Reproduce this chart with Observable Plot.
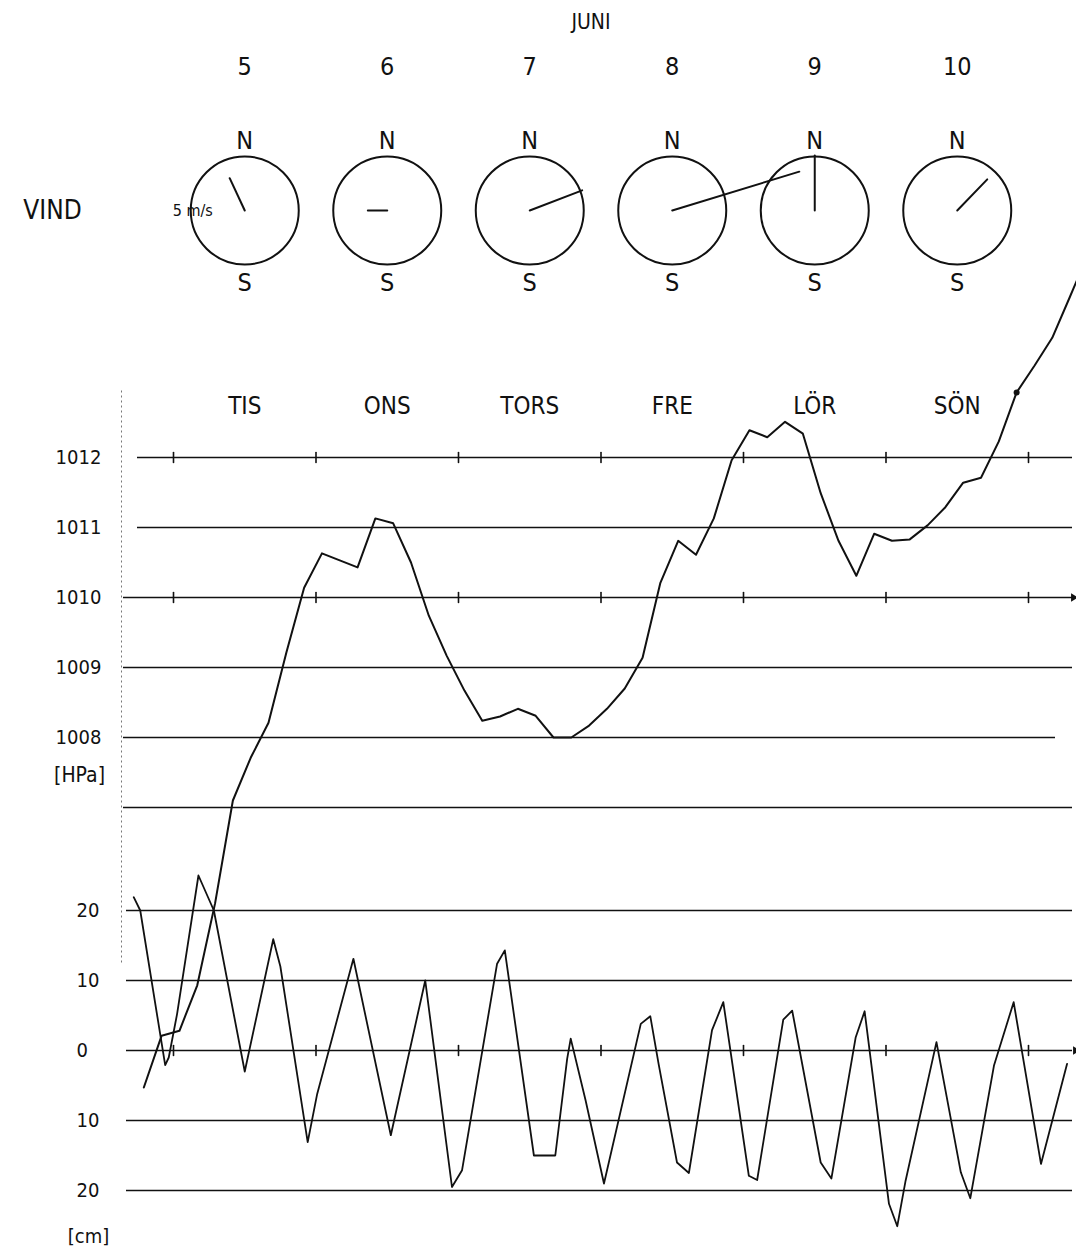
<!DOCTYPE html>
<html><head><meta charset="utf-8">
<script src="https://cdn.jsdelivr.net/npm/d3@7"></script>
<script src="https://cdn.jsdelivr.net/npm/@observablehq/plot@0.6"></script>
<style>
html,body{margin:0;padding:0;background:#fff;}
#chart{position:relative;width:1076px;height:1254px;overflow:hidden;background:#fff;}
#chart svg{position:absolute;left:0;top:0;background:transparent;}
</style></head><body><div id="chart"></div>
<script>
// ---- data ----
const month = "JUNI";
const dates = [5, 6, 7, 8, 9, 10];
const dayNames = ["TIS", "ONS", "TORS", "FRE", "LÖR", "SÖN"];
const noonHour = [12, 36, 60, 84, 108, 132];          // hours after 5 June 00:00
const midnightHour = [0, 24, 48, 72, 96, 120, 144];
const windDirection = [335, 270, 69, 73, 0, 44];      // degrees, compass
const windSpeed = [3.3, 1.8, 5.2, 12.3, 5.1, 4.0];    // m/s

const pressureHour = [-5,-2,1,4,7,10,13,16,19,22,25,28,31,34,37,40,43,46,49,52,55,58,61,64,67,70,73,76,79,82,85,88,91,94,97,100,103,106,109,112,115,118,121,124,127,130,133,136,139,142,145,148,151,154];
const pressureHPa = [1003.0,1003.74,1003.81,1004.46,1005.63,1007.1,1007.71,1008.21,1009.21,1010.14,1010.63,1010.53,1010.43,1011.13,1011.06,1010.5,1009.74,1009.17,1008.67,1008.24,1008.3,1008.41,1008.31,1008.0,1008.0,1008.17,1008.41,1008.7,1009.14,1010.21,1010.81,1010.61,1011.13,1011.96,1012.39,1012.29,1012.51,1012.34,1011.49,1010.81,1010.31,1010.91,1010.81,1010.83,1011.03,1011.29,1011.64,1011.71,1012.23,1012.93,1013.31,1013.71,1014.3,1014.9];

const waterHour = [-6.7,-5.6,-1.4,-0.8,0.6,4.2,6.8,12.0,16.8,18.0,22.6,24.2,30.3,36.6,42.4,46.9,48.6,54.5,55.8,60.7,64.3,66.3,66.9,69.4,72.5,78.7,80.3,81.7,84.8,86.8,90.7,92.6,96.9,98.3,102.7,104.2,109.0,110.8,114.9,116.4,120.5,121.9,123.3,128.5,132.6,134.2,138.2,141.5,146.1,150.5];
const waterCm = [21.9,20.0,-2.1,-1.0,5.2,25.0,20.0,-3.0,15.9,12.0,-13.1,-6.2,13.1,-12.1,10.0,-19.5,-17.1,12.4,14.3,-15.0,-15.0,-1.2,1.7,-7.1,-19.0,3.8,4.9,-1.9,-16.0,-17.5,2.9,6.9,-17.9,-18.5,4.4,5.7,-16.0,-18.3,1.9,5.6,-21.9,-25.1,-18.6,1.2,-17.4,-21.1,-2.1,6.9,-16.2,-1.9];

const pressureTicks = [1008, 1009, 1010, 1011, 1012];
const waterTicks = [-20, -10, 0, 10, 20];
const pressureUnit = "[HPa]";
const waterUnit = "[cm]";
const windLabel = "VIND";
const speedLabel = "5 m/s";

// ---- tables ----
const days = dates.map((d, i) => ({date: d, name: dayNames[i], hour: noonHour[i], dir: windDirection[i], speed: windSpeed[i]}));
const pressure = pressureHour.map((h, i) => ({hour: h, hPa: pressureHPa[i]}));
const water = waterHour.map((h, i) => ({hour: h, cm: waterCm[i]}));

const FONT = '"DejaVu Sans Condensed", "DejaVu Sans", sans-serif';
const W = 1076, H = 1254, ML = 173, MR = 48;
const ink = "#111";
const lineShape = {draw(context, l) { context.moveTo(0, 0); context.lineTo(0, -l); }};
const xScale = {domain: [0, 144], axis: null};
const baseStyle = {fontFamily: FONT, fontSize: "22px", color: ink, background: "transparent", overflow: "hidden"};
const topText = {frameAnchor: "top", lineAnchor: "middle"};

// ---- wind & headings ----
const windPlot = Plot.plot({
  width: W, height: H, marginLeft: ML, marginRight: MR, marginTop: 0, marginBottom: H - 420,
  x: xScale,
  y: {type: "point", domain: [windLabel]},
  length: {domain: [0, 5], range: [0, 54]},
  style: baseStyle,
  marks: [
    Plot.axisY({tickSize: 0, tickPadding: 121, textAnchor: "middle", fontSize: 26, label: null}),
    Plot.text([month], {...topText, dy: 22, dx: -10, text: d => d, fontSize: 21}),
    Plot.text(days, {...topText, x: "hour", text: "date", dy: 66, fontSize: 25}),
    Plot.text(days, {...topText, x: "hour", text: () => "N", dy: 140, fontSize: 25}),
    Plot.text(days, {...topText, x: "hour", text: () => "S", dy: 282, fontSize: 25}),
    Plot.text(days, {...topText, x: "hour", text: "name", dy: 406, fontSize: 24}),
    Plot.dot(days, {x: "hour", y: () => windLabel, r: 54, stroke: ink, strokeWidth: 2, fill: "none"}),
    Plot.vector(days, {x: "hour", y: () => windLabel, rotate: "dir", length: "speed", anchor: "start", shape: lineShape, stroke: ink, strokeWidth: 2}),
    Plot.text([days[0]], {x: "hour", y: () => windLabel, text: () => speedLabel, dx: -72, textAnchor: "start", fontSize: 16})
  ]
});

// ---- pressure ----
const pressurePlot = Plot.plot({
  width: W, height: H, marginLeft: ML, marginRight: MR, marginTop: 457, marginBottom: H - 737,
  x: xScale,
  y: {domain: [1008, 1012], axis: null},
  style: baseStyle,
  marks: [
    Plot.ruleX([0], {dx: -52, y1: 1012.95, y2: 1004.75, stroke: "#777", strokeWidth: 1, strokeDasharray: "2,3"}),
    Plot.ruleY([1012, 1011], {insetLeft: -36, insetRight: -44, stroke: ink, strokeWidth: 1.6}),
    Plot.ruleY([1010, 1009, 1007], {insetLeft: -50, insetRight: -44, stroke: ink, strokeWidth: 1.6}),
    Plot.ruleY([1008], {insetLeft: -50, insetRight: -27, stroke: ink, strokeWidth: 1.6}),
    Plot.vector(d3.cross(midnightHour, [1012, 1010]), {x: d => d[0], y: d => d[1], length: 10, anchor: "middle", shape: lineShape, stroke: ink, strokeWidth: 1.6}),
    Plot.dot([1010], {y: d => d, frameAnchor: "right", dx: 45, symbol: "triangle2", rotate: 90, r: 4, fill: ink}),
    Plot.axisY(pressureTicks, {tickSize: 0, tickPadding: 95, textAnchor: "middle", tickFormat: d => String(d), fontSize: 20, label: null}),
    Plot.text([1008], {y: d => d, frameAnchor: "left", textAnchor: "middle", dx: -94, dy: 38, text: () => pressureUnit, fontSize: 21}),
    Plot.line(pressure, {x: "hour", y: "hPa", stroke: ink, strokeWidth: 2}),
    Plot.dot([pressure[49]], {x: "hour", y: "hPa", r: 3, fill: ink})
  ]
});

// ---- water level ----
const waterPlot = Plot.plot({
  width: W, height: H, marginLeft: ML, marginRight: MR, marginTop: 910, marginBottom: H - 1190,
  x: xScale,
  y: {domain: [-20, 20], axis: null},
  style: baseStyle,
  marks: [
    Plot.ruleY(waterTicks, {insetLeft: -47, insetRight: -44, stroke: ink, strokeWidth: 1.6}),
    Plot.vector(d3.cross(midnightHour, [0]), {x: d => d[0], y: d => d[1], length: 10, anchor: "middle", shape: lineShape, stroke: ink, strokeWidth: 1.6}),
    Plot.dot([0], {y: d => d, frameAnchor: "right", dx: 47, symbol: "triangle2", rotate: 90, r: 4, fill: ink}),
    Plot.axisY(waterTicks, {tickSize: 0, tickPadding: 97, textAnchor: "start", tickFormat: d => String(Math.abs(d)), fontSize: 20, label: null}),
    Plot.text([-20], {y: d => d, frameAnchor: "left", textAnchor: "middle", dx: -85, dy: 46, text: () => waterUnit, fontSize: 20}),
    Plot.line(water, {x: "hour", y: "cm", stroke: ink, strokeWidth: 1.8})
  ]
});

const chart = document.getElementById("chart");
for (const p of [windPlot, pressurePlot, waterPlot]) {
  p.style.position = "absolute"; p.style.left = "0"; p.style.top = "0";
  chart.appendChild(p);
}
</script></body></html>
